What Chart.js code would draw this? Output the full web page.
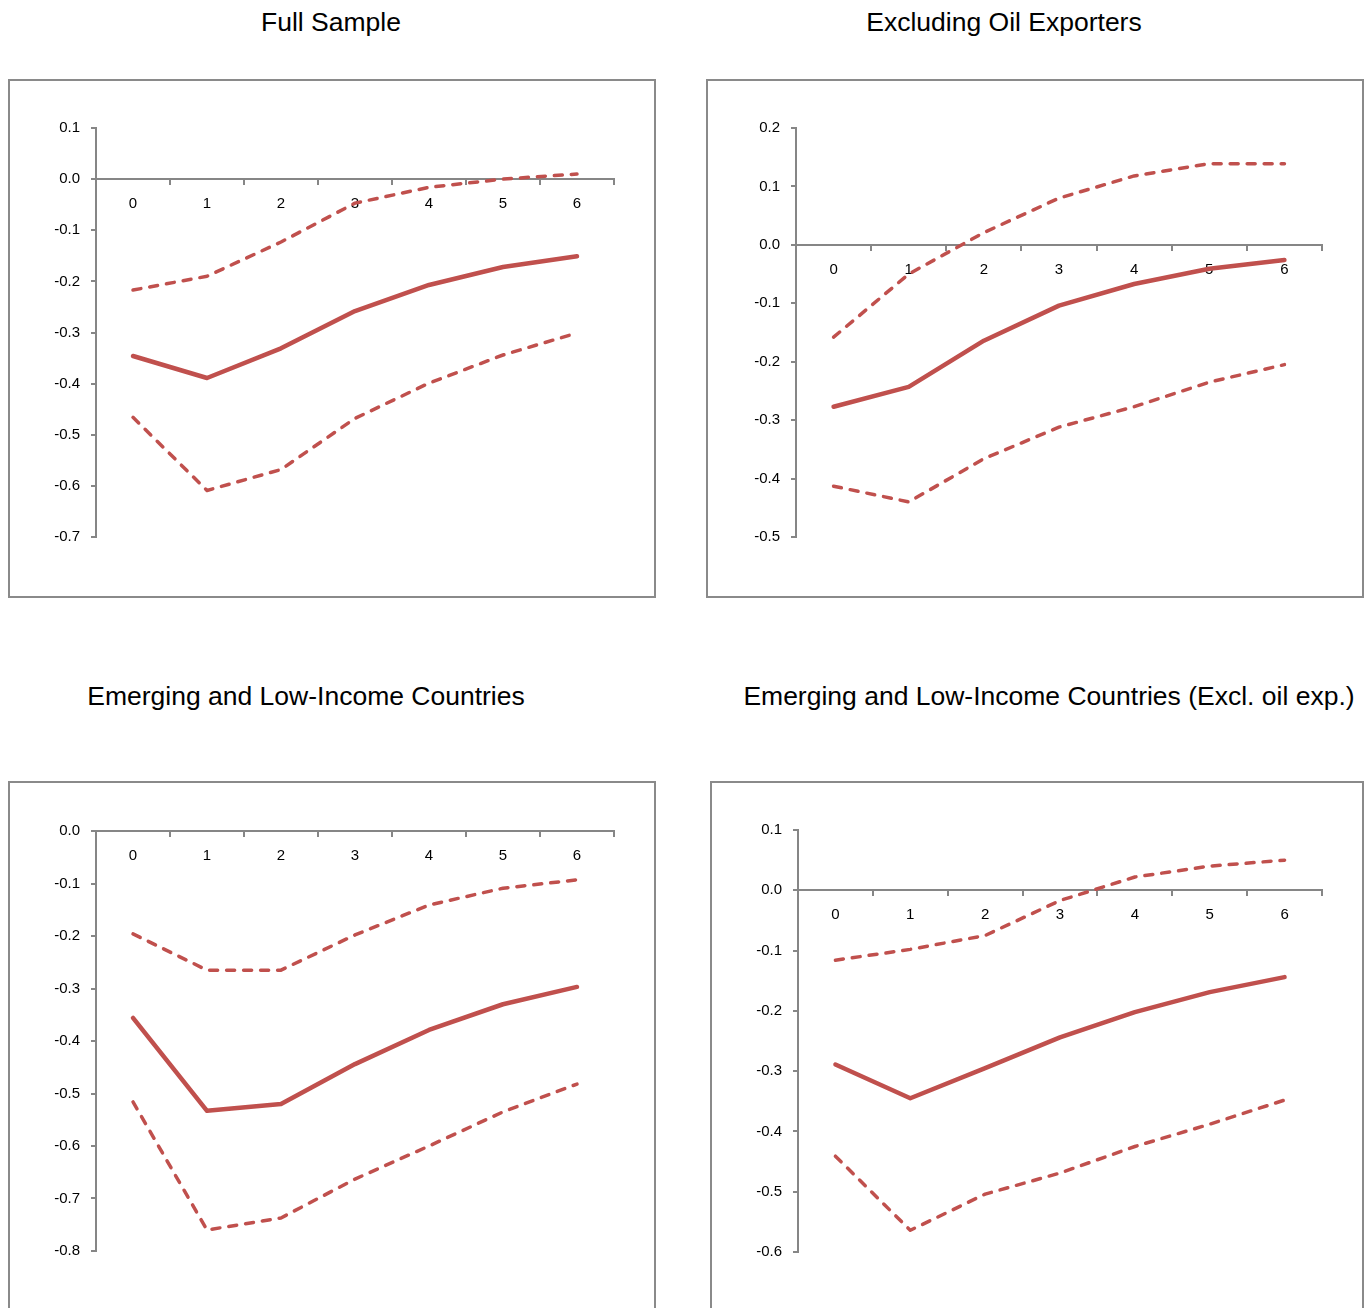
<!DOCTYPE html>
<html lang="en">
<head>
    <meta charset="UTF-8">
    <title>Impulse responses</title>
    <script src="https://cdn.jsdelivr.net/npm/chart.js@4.4.0/dist/chart.umd.min.js"></script>
    <style>
        body {
            margin: 0;
            width: 1367px;
            height: 1308px;
            overflow: hidden;
            background: #fff;
            position: relative;
            font-family: "Liberation Sans", Arial, sans-serif;
        }
        .title {
            position: absolute;
            width: 800px;
            height: 30px;
            line-height: 30px;
            text-align: center;
            font-size: 26.5px;
            color: #000;
            white-space: nowrap;
        }
        .box {
            position: absolute;
            box-sizing: border-box;
            border: 2px solid #8a8a8a;
        }
        canvas {
            position: absolute;
        }
    </style>
</head>
<body>
    <div class="title" style="left:-69px; top:7px;">Full Sample</div>
    <div class="title" style="left:604px; top:7px;">Excluding Oil Exporters</div>
    <div class="title" style="left:-94px; top:681px;">Emerging and Low-Income Countries</div>
    <div class="title" style="left:649px; top:681px;">Emerging and Low-Income Countries (Excl. oil exp.)</div>

    <div class="box" style="left:8px; top:79px; width:648px; height:519px;"></div>
    <div class="box" style="left:706px; top:79px; width:658px; height:519px;"></div>
    <div class="box" style="left:8px; top:781px; width:648px; height:560px;"></div>
    <div class="box" style="left:710px; top:781px; width:654px; height:560px;"></div>

    <canvas id="c1" width="647" height="518" style="left:8px; top:79px;"></canvas>
    <canvas id="c2" width="657" height="518" style="left:706px; top:79px;"></canvas>
    <canvas id="c3" width="647" height="540" style="left:8px; top:781px;"></canvas>
    <canvas id="c4" width="653" height="540" style="left:710px; top:781px;"></canvas>

    <script>
        // horizons (years after the shock)
        const horizons = ['0', '1', '2', '3', '4', '5', '6'];

        // Full Sample
        const fullMid   = [-0.346, -0.389, -0.331, -0.258, -0.207, -0.172, -0.151];
        const fullUpper = [-0.217, -0.190, -0.123, -0.047, -0.016, 0.000, 0.010];
        const fullLower = [-0.466, -0.609, -0.568, -0.468, -0.399, -0.344, -0.301];
        const fullRange = [-0.7, 0.1];

        // Excluding oil exporters
        const exOilMid   = [-0.277, -0.243, -0.164, -0.104, -0.067, -0.041, -0.026];
        const exOilUpper = [-0.158, -0.050, 0.021, 0.080, 0.118, 0.139, 0.139];
        const exOilLower = [-0.413, -0.440, -0.366, -0.312, -0.277, -0.235, -0.205];
        const exOilRange = [-0.5, 0.2];

        // Emerging and low-income countries
        const emMid   = [-0.356, -0.533, -0.520, -0.444, -0.379, -0.330, -0.297];
        const emUpper = [-0.196, -0.265, -0.265, -0.198, -0.141, -0.109, -0.093];
        const emLower = [-0.516, -0.760, -0.737, -0.663, -0.600, -0.535, -0.482];
        const emRange = [-0.8, 0.0];

        // Emerging and low-income countries, excluding oil exporters
        const emExMid   = [-0.289, -0.345, -0.295, -0.244, -0.202, -0.169, -0.144];
        const emExUpper = [-0.116, -0.098, -0.075, -0.017, 0.022, 0.040, 0.050];
        const emExLower = [-0.441, -0.564, -0.504, -0.469, -0.425, -0.388, -0.348];
        const emExRange = [-0.6, 0.1];

        const red = '#C0504D';
        const axisGrey = '#868686';
        Chart.defaults.font.family = '"Liberation Sans", Arial, sans-serif';
        Chart.defaults.font.size = 15;
        Chart.defaults.color = '#000';

        function band(data, dashed) {
            return {
                data: data,
                borderColor: red,
                borderWidth: dashed ? 3.5 : 4.5,
                borderDash: dashed ? [8, 9] : [],
                borderCapStyle: 'round',
                borderJoinStyle: 'round',
                pointRadius: 0,
                tension: 0,
                fill: false
            };
        }

        function drawPanel(id, mid, upper, lower, range, pad) {
            new Chart(document.getElementById(id), {
                type: 'line',
                data: {
                    labels: horizons,
                    datasets: [band(upper, true), band(lower, true), band(mid, false)]
                },
                options: {
                    responsive: false,
                    animation: false,
                    layout: { padding: { left: 0, top: pad.top, right: pad.right, bottom: pad.bottom } },
                    plugins: { legend: { display: false }, tooltip: { enabled: false } },
                    scales: {
                        x: {
                            position: { y: 0 },
                            offset: true,
                            grid: { offset: true, drawOnChartArea: false, drawTicks: true, tickLength: 5, color: axisGrey, lineWidth: 2 },
                            border: { display: true, color: axisGrey, width: 2 },
                            ticks: { padding: 11, maxRotation: 0, autoSkip: false, font: { size: 15 } },
                            afterFit: s => { s.height = 0; }
                        },
                        y: {
                            min: range[0],
                            max: range[1],
                            grid: { drawOnChartArea: false, drawTicks: true, tickLength: 5, color: axisGrey, lineWidth: 2 },
                            border: { display: true, color: axisGrey, width: 2 },
                            ticks: {
                                stepSize: 0.1,
                                padding: 11,
                                font: { size: 15 },
                                callback: v => Math.abs(v) < 1e-9 ? '0.0' : v.toFixed(1)
                            },
                            afterFit: s => { s.width = pad.left; }
                        }
                    }
                }
            });
        }

        drawPanel('c1', fullMid, fullUpper, fullLower, fullRange, { left: 88, top: 49, right: 41, bottom: 60 });
        drawPanel('c2', exOilMid, exOilUpper, exOilLower, exOilRange, { left: 90, top: 49, right: 41, bottom: 60 });
        drawPanel('c3', emMid, emUpper, emLower, emRange, { left: 88, top: 50, right: 41, bottom: 70 });
        drawPanel('c4', emExMid, emExUpper, emExLower, emExRange, { left: 88, top: 49, right: 41, bottom: 69 });
    </script>
</body>
</html>
